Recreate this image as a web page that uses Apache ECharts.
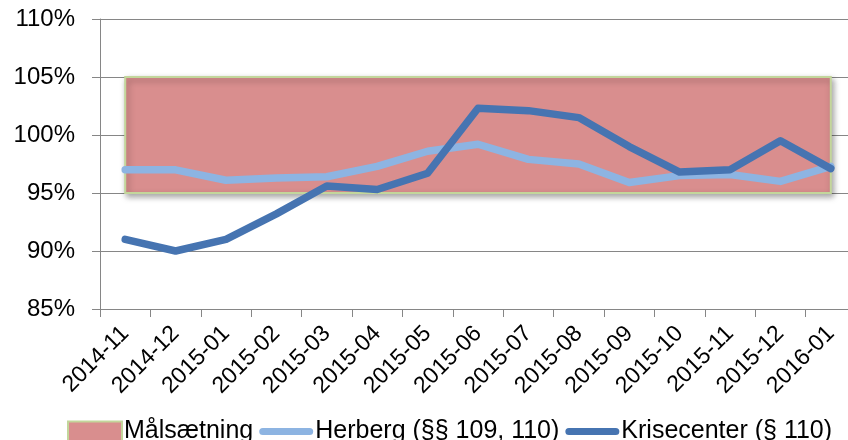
<!DOCTYPE html>
<html>
<head>
<meta charset="utf-8">
<script src="https://cdn.jsdelivr.net/npm/echarts@6/dist/echarts.min.js"></script>
<style>
html, body { margin: 0; padding: 0; background: #fff; overflow: hidden; }
#chart { width: 856px; height: 440px; }
</style>
</head>
<body>
<div id="chart"></div>
<script>
// months on the x axis
var months = ['2014-11', '2014-12', '2015-01', '2015-02', '2015-03', '2015-04', '2015-05',
    '2015-06', '2015-07', '2015-08', '2015-09', '2015-10', '2015-11', '2015-12', '2016-01'];

// occupancy in percent
var herberg = [97.0, 97.0, 96.1, 96.3, 96.4, 97.3, 98.6, 99.2, 97.9, 97.5, 95.9, 96.5, 96.6, 96.0, 97.3];
var krisecenter = [91.0, 90.0, 91.0, 93.2, 95.6, 95.3, 96.7, 102.3, 102.1, 101.5, 99.0, 96.8, 97.0, 99.5, 97.1];

// target band (Målsætning)
var targetLow = 95;
var targetHigh = 105;

var FONT = "'Liberation Sans', Arial, sans-serif";
var GREY = '#868686';
var LIGHT = '#8db4e2';
var DARK = '#4674b1';
var BAR_ICON = 'path://M4,0 H56 A4,4 0 0 1 56,8 H4 A4,4 0 0 1 4,0 Z';

var option = {
    animation: false,
    textStyle: { fontFamily: FONT },
    grid: { left: 100, top: 19, right: 0, bottom: 131 },
    legend: {
        left: 62,
        top: 414,
        itemWidth: 54,
        itemHeight: 20,
        itemGap: 6,
        textStyle: { fontSize: 25, color: '#000', fontFamily: FONT, padding: [0, 0, 0, -3] },
        data: [
            { name: 'Målsætning', icon: 'rect',
              itemStyle: { color: '#d98e8e', borderColor: '#c3d69b', borderWidth: 2 } },
            { name: 'Herberg (§§ 109, 110)', icon: BAR_ICON, itemStyle: { color: LIGHT } },
            { name: 'Krisecenter (§ 110)', icon: BAR_ICON, itemStyle: { color: DARK } }
        ]
    },
    xAxis: {
        type: 'category',
        data: months,
        boundaryGap: true,
        axisLine: { lineStyle: { color: GREY, width: 1 } },
        axisTick: { show: true, length: 8, lineStyle: { color: GREY } },
        axisLabel: { rotate: 45, margin: 21, fontSize: 23, color: '#000', fontFamily: FONT, interval: 0 },
        splitLine: { show: false }
    },
    yAxis: {
        type: 'value',
        min: 85,
        max: 110,
        interval: 5,
        axisLine: { show: true, lineStyle: { color: GREY, width: 1 } },
        axisTick: { show: true, length: 8, lineStyle: { color: GREY } },
        axisLabel: { formatter: '{value}%', fontSize: 24, color: '#000', margin: 25, fontFamily: FONT },
        splitLine: { show: true, lineStyle: { color: GREY, width: 1 } }
    },
    series: [
        {
            name: 'Målsætning',
            type: 'line',
            data: [],
            color: '#d98e8e',
            markArea: {
                silent: true,
                itemStyle: {
                    color: '#d98e8e',
                    borderColor: '#c3d69b',
                    borderWidth: 2,
                    shadowBlur: 6,
                    shadowColor: 'rgba(0,0,0,0.35)',
                    shadowOffsetX: 2,
                    shadowOffsetY: 3
                },
                data: [[
                    { xAxis: months[0], yAxis: targetHigh },
                    { xAxis: months[months.length - 1], yAxis: targetLow }
                ]]
            }
        },
        {
            name: 'Herberg (§§ 109, 110)',
            type: 'line',
            data: herberg,
            color: LIGHT,
            symbol: 'none',
            lineStyle: { width: 7.5, color: LIGHT, cap: 'round', join: 'round' }
        },
        {
            name: 'Krisecenter (§ 110)',
            type: 'line',
            data: krisecenter,
            color: DARK,
            symbol: 'none',
            lineStyle: { width: 7.5, color: DARK, cap: 'round', join: 'round' }
        }
    ]
};

var myChart = echarts.init(document.getElementById('chart'));
myChart.setOption(option);
</script>
</body>
</html>
